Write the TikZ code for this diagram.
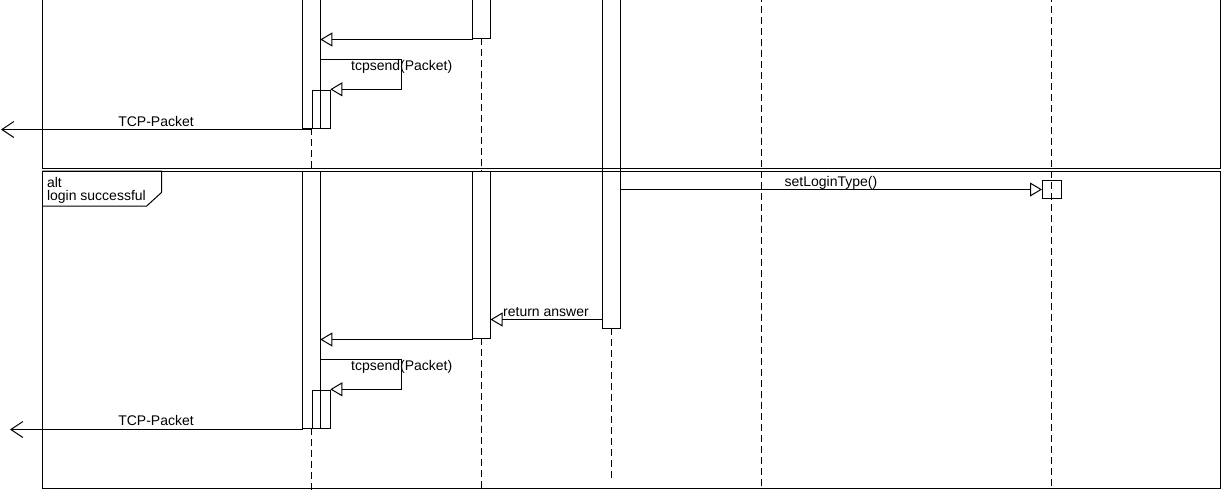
\documentclass[tikz,border=0pt]{standalone}
\usepackage{fontspec}
\setmainfont{Liberation Sans}
\usetikzlibrary{arrows.meta}
\begin{document}
\begin{tikzpicture}[x=1pt,y=-1pt,
  every node/.style={font=\fontsize{14}{13}\selectfont, inner sep=0pt, outer sep=0pt},
  frame/.style={draw=black, line width=1pt},
  life/.style={draw=black, line width=1pt, dash pattern=on 7pt off 4pt},
  act/.style={draw=black, line width=1pt, anchor=north west, minimum width=18pt},
  msg/.style={draw=black, line width=1pt, -{Triangle[open,length=12pt,width=14pt]}},
  outmsg/.style={draw=black, line width=1pt, -{Straight Barb[length=12pt,width=16pt]}},
  lbl/.style={anchor=base}
]
\useasboundingbox (0,0) rectangle (1221,490);

% frames
\draw[frame] (42,-5) -- (42,168) -- (1220,168) -- (1220,-5);
\node[frame, anchor=north west, minimum width=1178pt, minimum height=317pt] (altf) at (42,171) {};
\draw[frame] (altf.north west) -- (161.7,171) -- (161.7,192.3) -- (146.7,206) -- (altf.west |- 0,206);
\node[anchor=base west] (altlbl) at (47,187.3) {alt};
\node[anchor=base west] (guard) at (47,200) {login successful};

% activation boxes
\node[act, minimum width=17.6pt, minimum height=138.3pt] (A1t) at (302.7,-10) {};
\node[act, minimum height=38pt] (A1n) at (312.3,90.3) {};
\node[act, minimum height=48.3pt] (A2t) at (472.5,-10) {};
\node[act, minimum height=338.3pt] (A3) at (602.5,-10) {};
\node[act, minimum width=17.6pt, minimum height=257.3pt] (A1b) at (302.7,171) {};
\node[act, minimum height=38pt] (A1m) at (312.3,390.3) {};
\node[act, minimum height=167.3pt] (A2b) at (472.5,171) {};
\node[act, minimum width=19pt, minimum height=18pt] (A5) at (1042,180.3) {};

% lifelines
\coordinate (L1end) at (311.5,495);
\coordinate (L2end) at (481.5,495);
\coordinate (L3end) at (611.5,479);
\coordinate (L4top) at (761,-5);
\coordinate (L4end) at (761,495);
\coordinate (L5top) at (1051.5,-5);
\coordinate (L5end) at (1051.5,495);
\draw[life] (311.5,128.3) -- (A1b.north);
\draw[life] (311.5,428.3) -- (L1end);
\draw[life] (A2t.south) -- (A2b.north);
\draw[life] (A2b.south) -- (L2end);
\draw[life] (A3.south) -- (L3end);
\draw[life] (L4top) -- (L4end);
\draw[life] (L5top) -- (L5end);

% top section messages
\draw[msg] (A2t.west |- 0,39.5) -- (A1t.east |- 0,39.5);
\draw[msg] (A1t.east |- 0,59.7) -- (401.7,59.7) -- (401.7,89.3) -- (A1n.east |- 0,89.3);
\node[lbl] (ts1) at (401.7,70.7) {tcpsend(Packet)};
\coordinate (out1) at (1,129.5);
\draw[outmsg] (311.5,129.5) -- (out1);
\node[lbl] (tcp1) at (156,126) {TCP-Packet};

% alt section messages
\draw[msg] (A3.east |- 0,189.5) -- (A5.west |- 0,189.5);
\node[lbl] (slt) at (831,186) {setLoginType()};
\draw[msg] (A3.west |- 0,319.5) -- (A2b.east |- 0,319.5);
\node[lbl] (ret) at (546,316) {return answer};
\draw[msg] (A2b.west |- 0,339.5) -- (A1b.east |- 0,339.5);
\draw[msg] (A1b.east |- 0,359.7) -- (401.7,359.7) -- (401.7,389.3) -- (A1m.east |- 0,389.3);
\node[lbl] (ts2) at (401.7,370.7) {tcpsend(Packet)};
\coordinate (out2) at (10,429.5);
\draw[outmsg] (A1b.south west |- 0,429.5) -- (out2);
\node[lbl] (tcp2) at (156,425.7) {TCP-Packet};
\end{tikzpicture}
\end{document}
